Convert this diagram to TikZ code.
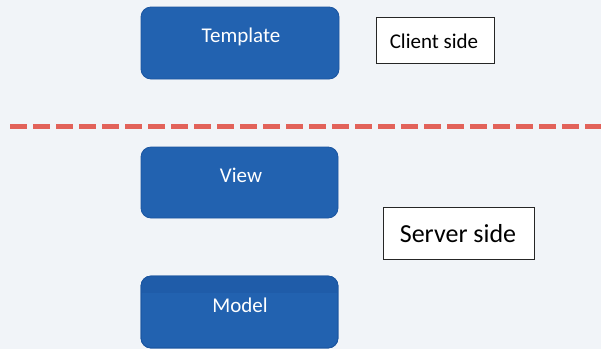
\documentclass[tikz,border=0pt]{standalone}
\usepackage{fontspec}
\setmainfont{Carlito}
\definecolor{pagebg}{HTML}{F1F4F8}
\definecolor{boxblue}{HTML}{2262B0}
\definecolor{boxedge}{HTML}{1B55A0}
\definecolor{boxtop}{HTML}{1F5CA9}
\definecolor{splitred}{HTML}{E2625A}
\begin{document}
\begin{tikzpicture}[x=1pt,y=-1pt,
  layer/.style={draw=boxedge,line width=0.8pt,fill=boxblue,rounded corners=10pt},
  layertext/.style={text=white,font=\fontsize{21}{24}\selectfont,inner sep=0pt,anchor=base},
  sidebox/.style={draw=black!85,line width=0.9pt,fill=white,inner sep=0pt},
  sidetext/.style={text=black,inner sep=0pt,anchor=base}]
  % background
  \fill[pagebg] (0,0) rectangle (601,349);
  \useasboundingbox (0,0) rectangle (601,349);

  % client/server split
  \coordinate (splitL) at (10,126.5);
  \coordinate (splitR) at (601,126.5);
  \draw[splitred,line width=5pt,dash pattern=on 17pt off 6pt] (splitL) -- (splitR);

  % layers
  \draw[layer] (141,7) rectangle (339,79);
  \node[layertext] (template) at (241,42) {Template};

  \draw[layer] (141,147) rectangle (338,218);
  \node[layertext] (view) at (241,182) {View};

  \draw[layer] (141,276) rectangle (338,348);
  \begin{scope}
    \clip[rounded corners=10pt] (141,276) rectangle (338,348);
    \fill[boxtop] (141,276) rectangle (338,293);
  \end{scope}
  \draw[boxedge,line width=0.8pt,rounded corners=10pt] (141,276) rectangle (338,348);
  \node[layertext] (model) at (240,312) {Model};

  % side labels
  \draw[sidebox] (376,17) rectangle (494,63);
  \node[sidetext,font=\fontsize{21}{24}\selectfont] (client) at (434,48) {Client side};

  \draw[sidebox] (383,207) rectangle (534,259);
  \node[sidetext,font=\fontsize{26}{30}\selectfont] (server) at (458,242) {Server side};
\end{tikzpicture}
\end{document}
